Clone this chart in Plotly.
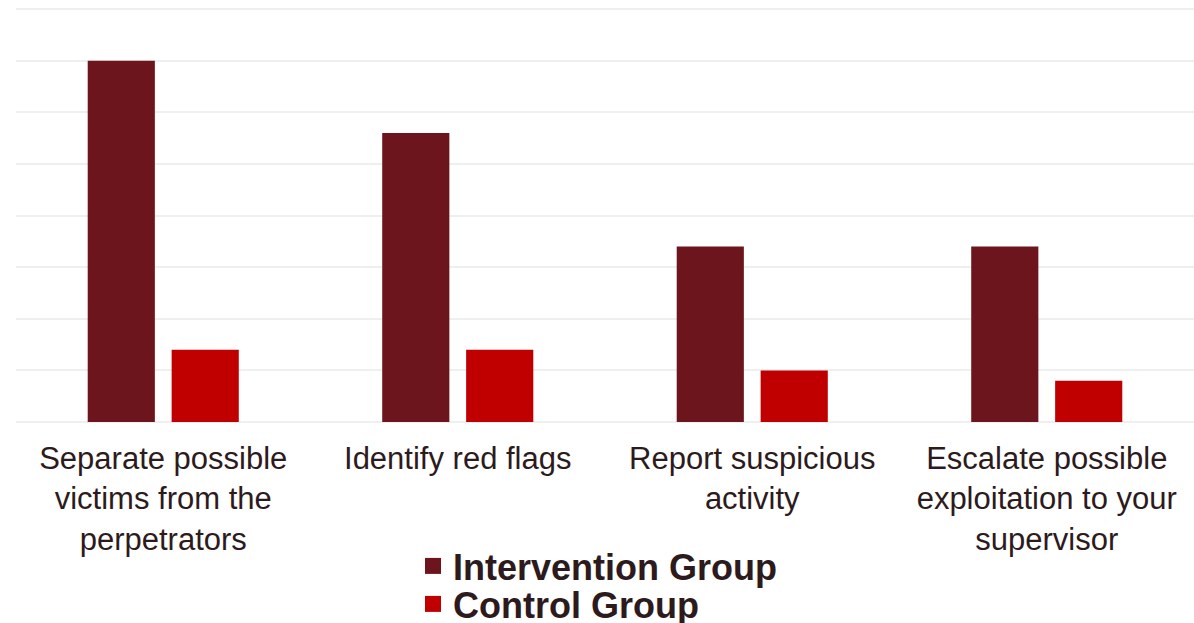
import plotly.graph_objects as go

categories = [
    "Separate possible<br>victims from the<br>perpetrators",
    "Identify red flags",
    "Report suspicious<br>activity",
    "Escalate possible<br>exploitation to your<br>supervisor",
]
intervention = [35, 28, 17, 17]
control = [7, 7, 5, 4]

TEXT = "#2d1a1c"
FONT = "Liberation Sans, Arial, sans-serif"
C_INT = "#6d151c"
C_CTL = "#c00000"

fig = go.Figure()
fig.add_trace(go.Bar(name="Intervention Group", x=categories, y=intervention,
                     marker=dict(color=C_INT, line=dict(width=0)), showlegend=False))
fig.add_trace(go.Bar(name="Control Group", x=categories, y=control,
                     marker=dict(color=C_CTL, line=dict(width=0)), showlegend=False))
# legend entries with larger square swatches
fig.add_trace(go.Scatter(name="Intervention Group", x=[None], y=[None], mode="markers",
                         marker=dict(symbol="square", size=18, color=C_INT),
                         legend="legend", hoverinfo="skip"))
fig.add_trace(go.Scatter(name="Control Group", x=[None], y=[None], mode="markers",
                         marker=dict(symbol="square", size=18, color=C_CTL),
                         legend="legend2", hoverinfo="skip"))

legend_common = dict(orientation="v", xref="container", yref="container",
                     x=0.3459, xanchor="left", yanchor="middle",
                     font=dict(size=36, color=TEXT, family=FONT, weight="bold"),
                     itemwidth=30, itemsizing="trace", bgcolor="rgba(0,0,0,0)")

fig.update_layout(
    width=1194, height=623,
    margin=dict(l=16, r=0, t=5, b=201, autoexpand=False),
    paper_bgcolor="white", plot_bgcolor="white",
    barmode="group", bargap=0.43, bargroupgap=0.2,
    font=dict(family=FONT, color=TEXT),
    xaxis=dict(tickfont=dict(size=31, color=TEXT), showgrid=False, showline=False,
               ticks="", ticklabelstandoff=15, automargin=False),
    yaxis=dict(range=[0, 40.4], tickvals=[0, 5, 10, 15, 20, 25, 30, 35, 40],
               showticklabels=False, showgrid=True,
               gridcolor="#efefef", gridwidth=2, zeroline=True,
               zerolinecolor="#efefef", zerolinewidth=2, automargin=False),
    legend=dict(legend_common, y=1 - 566 / 623),
    legend2=dict(legend_common, y=1 - 604 / 623),
    showlegend=True,
)

fig.write_html("out.html")
